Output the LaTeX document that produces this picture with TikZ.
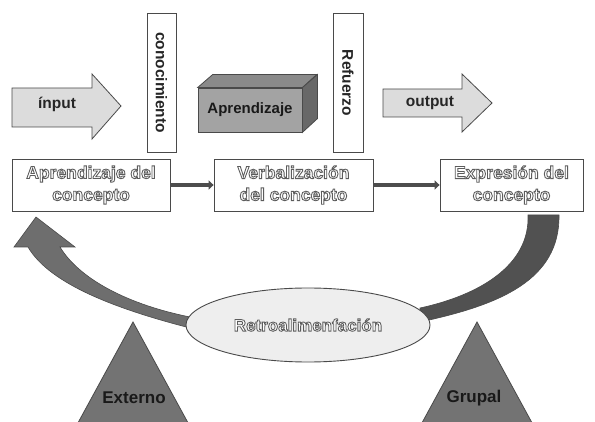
\documentclass[tikz,border=0pt]{standalone}
\usepackage{fontspec}
\setmainfont{Liberation Sans}
\newfontfamily\outlinefont[FakeBold=5]{Liberation Sans Bold}
\usetikzlibrary{arrows.meta,shapes.geometric}
\definecolor{arrowfill}{HTML}{DCDCDC}
\definecolor{edgec}{HTML}{4A4A4A}
\definecolor{frontc}{HTML}{A3A3A3}
\definecolor{topc}{HTML}{8A8A8A}
\definecolor{sidec}{HTML}{686868}
\definecolor{leftarr}{HTML}{6E6E6E}
\definecolor{rightarr}{HTML}{515151}
\definecolor{trif}{HTML}{737373}
\definecolor{ellf}{HTML}{EEEEEE}
\definecolor{connc}{HTML}{4D4D4D}
\definecolor{outl}{HTML}{5C5C5C}
\newcommand\outlinedtext[1]{{\color{outl}\special{pdf:code 1 1 1 rg}\outlinefont #1}}
\tikzset{
  bigarrow/.style={draw=edgec, line width=0.8pt, fill=arrowfill},
  arrowlabel/.style={font=\fontsize{15.5}{18}\selectfont\bfseries, text=black!85, inner sep=0pt},
  vbox/.style={draw=edgec, line width=0.8pt, fill=white, rotate=-90, minimum width=139, minimum height=29, inner sep=0pt, font=\fontsize{15.5}{18}\selectfont\bfseries, text=black!85},
  flowbox/.style={draw=edgec, line width=0.8pt, fill=white, align=center, minimum height=52, inner sep=0pt, font=\fontsize{17.5}{22}\selectfont},
  conn/.style={draw=connc, line width=3.4pt, -{Triangle[length=5pt,width=9pt]}},
  band/.style={draw=edgec, line width=0.6pt},
  tri/.style={fill=trif, draw=edgec, line width=0.8pt},
  trilabel/.style={font=\fontsize{17}{19}\selectfont\bfseries, text=black!90, inner sep=0pt}
}
\begin{document}
\begin{tikzpicture}[x=1pt,y=-1pt]
\useasboundingbox (0,0) rectangle (595,422);
\clip (0,0) rectangle (595,422);
% input arrow
\draw[bigarrow] (12,88) -- (92,88) -- (92,74) -- (121,106) -- (92,139) -- (92,127) -- (12,127) -- cycle;
\node[arrowlabel] (inp) at (57,104) {ínput};
% output arrow
\draw[bigarrow] (383,89) -- (462,89) -- (462,74) -- (492,103) -- (462,132) -- (462,117) -- (383,117) -- cycle;
\node[arrowlabel] (outp) at (430,103) {output};
% vertical boxes
\node[vbox] (cono) at (161.5,82.5) {conocimiento};
\node[vbox, minimum height=30] (refu) at (348,83) {Refuerzo};
% 3D box
\node[draw=edgec, line width=0.8pt, fill=frontc, minimum width=104, minimum height=44, inner sep=0pt, font=\fontsize{15}{18}\selectfont\bfseries, text=black!90] (apr) at (250,110) {Aprendizaje};
\draw[fill=topc, draw=edgec, line width=0.8pt] (apr.north west) -- ++(15,-13) -- ++(104,0) -- (apr.north east) -- cycle;
\draw[fill=sidec, draw=edgec, line width=0.8pt] (apr.north east) -- ++(15,-13) -- ++(0,44) -- (apr.south east) -- cycle;
% flow boxes
\node[flowbox, minimum width=158] (b1) at (91,185) {\outlinedtext{Aprendizaje del}\\\outlinedtext{concepto}};
\node[flowbox, minimum width=159] (b2) at (293.5,185) {\outlinedtext{Verbalización}\\\outlinedtext{del concepto}};
\node[flowbox, minimum width=143] (b3) at (511.5,185) {\outlinedtext{Expresión del}\\\outlinedtext{concepto}};
\draw[conn] (b1.east) -- (b2.west);
\draw[conn] (b2.east) -- (b3.west);
% feedback bands
\coordinate (lt) at (190,328);
\coordinate (rt) at (420,322);
\draw[band, fill=leftarr] (lt) .. controls (120,310) and (50,285) .. (28,247) -- (14,247) -- (36,217) -- (75,247) -- (60,247) .. controls (80,280) and (130,305) .. (190,317) -- cycle;
\draw[band, fill=rightarr] (528,215) -- (559,215) .. controls (560,280) and (500,305) .. (rt) -- (420,308) .. controls (480,295) and (530,265) .. (528,215) -- cycle;
% ellipse
\node[ellipse, draw=edgec, line width=0.9pt, fill=ellf, minimum width=244, minimum height=74, inner sep=0pt, font=\fontsize{17}{20}\selectfont] (retro) at (308,325) {\outlinedtext{Retroalimenfación}};
% triangles
\draw[tri] (133,322) -- (73,432) -- (193,432) -- cycle;
\node[trilabel] (ext) at (134,398) {Externo};
\draw[tri] (477,322) -- (417,432) -- (537,432) -- cycle;
\node[trilabel] (grp) at (474,398) {Grupal};
\end{tikzpicture}
\end{document}
